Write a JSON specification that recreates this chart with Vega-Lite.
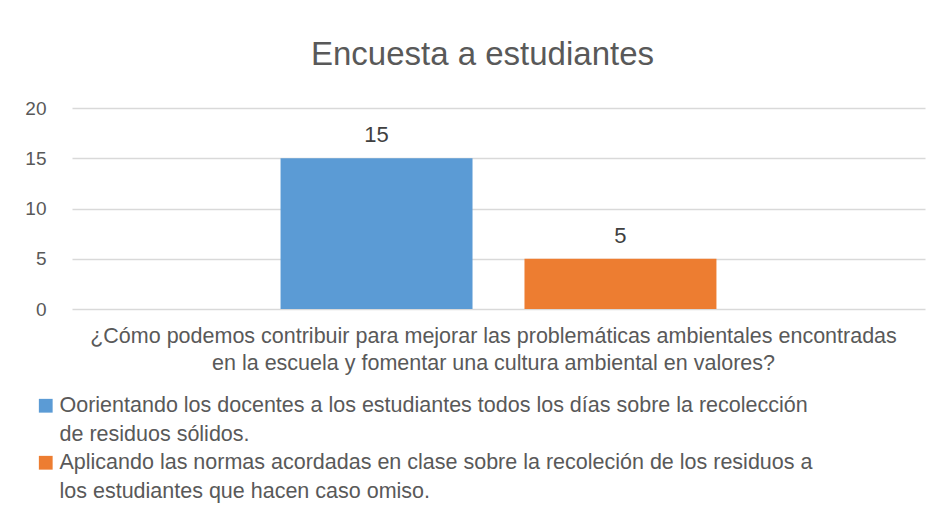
{
  "$schema": "https://vega.github.io/schema/vega-lite/v6.json",
  "width": 853,
  "height": 201,
  "autosize": {"type": "none"},
  "padding": {"left": 72, "top": 108, "right": 19, "bottom": 218},
  "background": "white",
  "title": {
    "text": "Encuesta a estudiantes",
    "font": "Liberation Sans",
    "fontSize": 33,
    "fontWeight": "normal",
    "color": "#595959",
    "anchor": "middle",
    "dx": -16,
    "offset": 27
  },
  "config": {
    "view": {"stroke": null},
    "font": "Liberation Sans",
    "axis": {"labelFont": "Liberation Sans", "titleFont": "Liberation Sans"},
    "legend": {"labelFont": "Liberation Sans"},
    "style": {"guide-label": {"lineHeight": 29}}
  },
  "data": {
    "values": [
      {"serie": "Oorientando los docentes a los estudiantes todos los días sobre la recolección\nde residuos sólidos.", "valor": 15},
      {"serie": "Aplicando las normas acordadas en clase sobre la recoleción de los residuos a\nlos estudiantes que hacen caso omiso.", "valor": 5}
    ]
  },
  "encoding": {
    "x": {
      "field": "serie",
      "type": "nominal",
      "sort": null,
      "scale": {"paddingInner": 0.213, "paddingOuter": 0.855},
      "axis": {
        "labels": false,
        "ticks": false,
        "domain": false,
        "title": ["¿Cómo podemos contribuir para mejorar las problemáticas ambientales encontradas", "en la escuela y fomentar una cultura ambiental en valores?"],
        "titleFontSize": 21.5,
        "titleFontWeight": "normal",
        "titleColor": "#595959",
        "titlePadding": 16,
        "titleLineHeight": 27,
        "titleX": 421
      }
    },
    "y": {
      "field": "valor",
      "type": "quantitative",
      "scale": {"domain": [0, 20]},
      "axis": {
        "values": [0, 5, 10, 15, 20],
        "title": null,
        "domain": false,
        "ticks": false,
        "labelPadding": 26,
        "labelFontSize": 19,
        "labelColor": "#595959",
        "gridColor": "#d9d9d9",
        "gridWidth": 1.5
      }
    }
  },
  "layer": [
    {
      "mark": {"type": "bar"},
      "encoding": {
        "color": {
          "field": "serie",
          "type": "nominal",
          "sort": null,
          "scale": {"range": ["#5B9BD5", "#ED7D31"]},
          "legend": {
            "title": null,
            "orient": "none",
            "legendX": -37,
            "legendY": 287,
            "direction": "vertical",
            "symbolType": "square",
            "symbolSize": 190,
            "symbolStrokeWidth": 0,
            "labelFontSize": 21.5,
            "labelColor": "#595959",
            "labelLimit": 900,
            "labelOffset": 3,
            "rowPadding": 5,
            "labelExpr": "split(datum.label, '\\n')"
          }
        }
      }
    },
    {
      "mark": {"type": "text", "baseline": "alphabetic", "dy": -16, "fontSize": 22, "color": "#404040"},
      "encoding": {"text": {"field": "valor", "type": "quantitative"}}
    }
  ]
}
